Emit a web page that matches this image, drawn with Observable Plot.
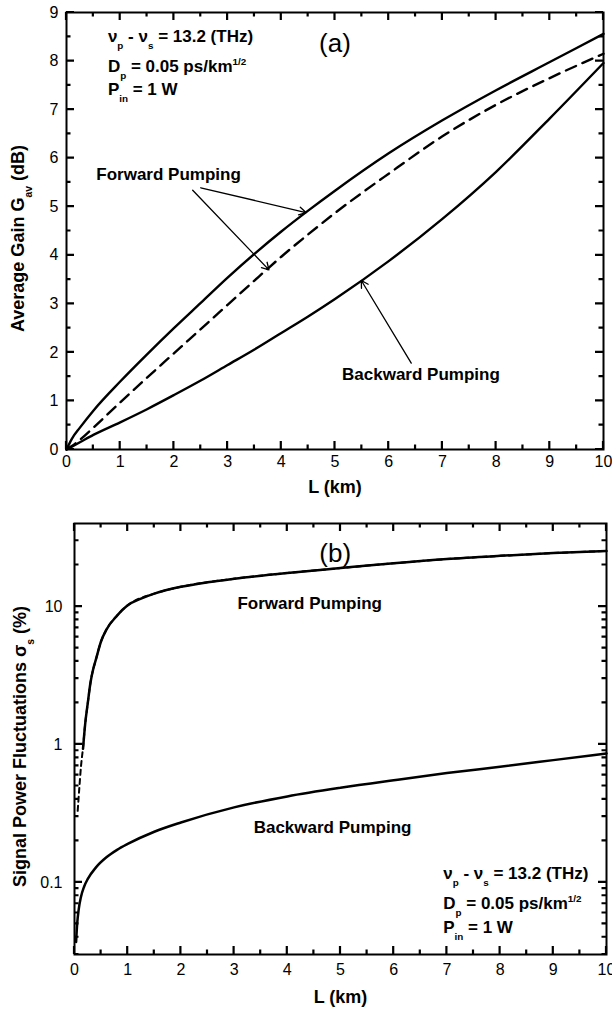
<!DOCTYPE html>
<html>
<head>
<meta charset="utf-8">
<script src="https://cdn.jsdelivr.net/npm/d3@7"></script>
<script src="https://cdn.jsdelivr.net/npm/@observablehq/plot@0.6"></script>
<style>
  html, body { margin: 0; padding: 0; background: #fff; }
  #wrap { position: relative; width: 612px; height: 1013px; overflow: hidden; background: #fff; }
  #wrap svg { position: absolute; left: 0; }
</style>
</head>
<body>
<div id="wrap"></div>
<script>
// ---------------- Panel (a): average gain vs length ----------------
const aL            = [0, 0.1, 0.25, 0.5, 1, 1.5, 2, 2.5, 3, 3.5, 4, 4.5, 5, 6, 7, 8, 9, 10];
const aForwardSolid = [0, 0.22, 0.45, 0.8, 1.4, 1.96, 2.5, 3.02, 3.54, 4.03, 4.49, 4.92, 5.33, 6.1, 6.78, 7.4, 7.98, 8.56];
const aForwardDash  = [0, 0.07, 0.2, 0.45, 0.97, 1.48, 1.98, 2.48, 2.98, 3.48, 3.97, 4.43, 4.87, 5.68, 6.45, 7.1, 7.65, 8.15];
const aBackward     = [0, 0.06, 0.15, 0.3, 0.56, 0.83, 1.12, 1.42, 1.74, 2.06, 2.4, 2.74, 3.1, 3.88, 4.75, 5.72, 6.82, 7.96];
const aXTicks = [0, 1, 2, 3, 4, 5, 6, 7, 8, 9, 10];
const aXMinor = [0.5, 1.5, 2.5, 3.5, 4.5, 5.5, 6.5, 7.5, 8.5, 9.5];
const aYTicks = [0, 1, 2, 3, 4, 5, 6, 7, 8, 9];
const aYMinor = [0.5, 1.5, 2.5, 3.5, 4.5, 5.5, 6.5, 7.5, 8.5];

// ---------------- Panel (b): signal power fluctuations vs length ----------------
const bForwardL      = [0.16, 0.2, 0.25, 0.3, 0.35, 0.4, 0.5, 0.6, 0.8, 1, 1.25, 1.5, 2, 2.5, 3, 4, 5, 6, 7, 8, 9, 10];
const bForwardSigma  = [0.93, 1.4, 2.0, 2.8, 3.5, 4.1, 5.6, 6.8, 8.6, 10.2, 11.4, 12.4, 13.9, 15.0, 15.9, 17.5, 19.0, 20.6, 22.1, 23.3, 24.4, 25.3];
const bForwardDashL     = [0.06, 0.09, 0.12, 0.16, 0.2, 0.25, 0.3, 0.4, 0.5, 0.6, 0.8, 1, 1.5, 2, 3, 4, 5, 6, 7, 8, 9, 10];
const bForwardDashSigma = [0.33, 0.48, 0.68, 0.95, 1.4, 2.0, 2.8, 4.1, 5.6, 6.8, 8.6, 10.2, 12.4, 13.9, 15.9, 17.5, 19.0, 20.6, 22.1, 23.3, 24.4, 25.3];
const bBackwardL     = [0.03, 0.05, 0.08, 0.12, 0.18, 0.25, 0.4, 0.6, 0.8, 1, 1.5, 2, 3, 4, 5, 6, 7, 8, 9, 10];
const bBackwardSigma = [0.037, 0.05, 0.064, 0.078, 0.093, 0.106, 0.128, 0.152, 0.172, 0.19, 0.233, 0.272, 0.35, 0.42, 0.485, 0.55, 0.62, 0.69, 0.77, 0.86];
const bXTicks = [0, 1, 2, 3, 4, 5, 6, 7, 8, 9, 10];
const bXMinor = [0.5, 1.5, 2.5, 3.5, 4.5, 5.5, 6.5, 7.5, 8.5, 9.5];
const bYTicks = [0.1, 1, 10];
const bYTickLabels = ["0.1", "1", "10"];
const bYMinor = [0.03, 0.04, 0.05, 0.06, 0.07, 0.08, 0.09, 0.2, 0.3, 0.4, 0.5, 0.6, 0.7, 0.8, 0.9, 2, 3, 4, 5, 6, 7, 8, 9, 20, 30];

// ---------------- Texts ----------------
const xTitle = "L (km)";
const curveLabels = ["Forward Pumping", "Backward Pumping"];
const panelLabels = ["(a)", "(b)"];
const paramLines = [
  [["ν", null], ["p", "sub"], [" - ν", null], ["s", "sub"], [" = 13.2 (THz)", null]],
  [["D", null], ["p", "sub"], [" = 0.05 ps/km", null], ["1/2", "sup"]],
  [["P", null], ["in", "sub"], [" = 1 W", null]]
];
const aYTitle = [["Average Gain G", null], ["av", "sub"], [" (dB)", null]];
const bYTitle = [["Signal Power Fluctuations σ", null], ["s", "sub"], [" (%)", null]];

// ---------------- helpers ----------------
const FONT = "'Liberation Sans', Arial, Helvetica, sans-serif";
const toRows = (xs, ys) => xs.map((x, i) => ({x, y: ys[i]}));

function rich(svg, x, y, parts, {size = 17, weight = "bold", anchor = "start", rotate = 0} = {}) {
  const t = d3.select(svg).append("text")
    .attr("transform", `translate(${x},${y}) rotate(${rotate})`)
    .attr("text-anchor", anchor)
    .attr("font-family", FONT)
    .attr("font-size", size)
    .attr("font-weight", weight)
    .attr("fill", "#000");
  let shift = 0;
  for (const [s, kind] of parts) {
    const target = kind === "sub" ? size * 0.42 : kind === "sup" ? -size * 0.42 : 0;
    const ts = t.append("tspan").text(s).attr("dy", target - shift);
    if (kind) ts.attr("font-size", size * 0.58);
    shift = target;
  }
}

// inward ticks on all four sides, positioned through the plot's own scales
function drawTicks(svg, dims, xMaj, xMin, yMaj, yMin) {
  const sx = svg.scale("x"), sy = svg.scale("y");
  const L = dims.left, R = dims.width - dims.right, T = dims.top, Bt = dims.height - dims.bottom;
  const M = 8, m = 4.5;
  let d = "";
  for (const [vals, len] of [[xMaj, M], [xMin, m]]) for (const v of vals) {
    const x = sx.apply(v);
    d += `M${x},${Bt}V${Bt - len}M${x},${T}V${T + len}`;
  }
  for (const [vals, len] of [[yMaj, M], [yMin, m]]) for (const v of vals) {
    const y = sy.apply(v);
    d += `M${L},${y}H${L + len}M${R},${y}H${R - len}`;
  }
  const ns = "http://www.w3.org/2000/svg";
  const p = document.createElementNS(ns, "path");
  p.setAttribute("d", d);
  p.setAttribute("stroke", "#000");
  p.setAttribute("stroke-width", "2.2");
  p.setAttribute("fill", "none");
  svg.appendChild(p);
}

const wrap = document.getElementById("wrap");

// ---------------- Panel (a) ----------------
const A = {width: 612, height: 510, top: 12, right: 9, bottom: 61, left: 66};

const plotA = Plot.plot({
  width: A.width, height: A.height,
  marginTop: A.top, marginRight: A.right, marginBottom: A.bottom, marginLeft: A.left,
  style: {fontFamily: FONT, fontSize: "16px", color: "#000", background: "transparent", overflow: "visible"},
  x: {domain: [0, 10]},
  y: {domain: [0, 9]},
  marks: [
    Plot.line(toRows(aL, aForwardSolid), {x: "x", y: "y", curve: "monotone-x", stroke: "#000", strokeWidth: 2.4}),
    Plot.line(toRows(aL, aForwardDash), {x: "x", y: "y", curve: "monotone-x", stroke: "#000", strokeWidth: 2.4, strokeDasharray: "11,7"}),
    Plot.line(toRows(aL, aBackward), {x: "x", y: "y", curve: "monotone-x", stroke: "#000", strokeWidth: 2.4}),
    Plot.arrow([
      {x1: 2.5, y1: 5.39, x2: 4.46, y2: 4.88},
      {x1: 2.35, y1: 5.34, x2: 3.77, y2: 3.70},
      {x1: 6.42, y1: 1.78, x2: 5.49, y2: 3.48}
    ], {x1: "x1", y1: "y1", x2: "x2", y2: "y2", stroke: "#000", strokeWidth: 1.3, headLength: 9}),
    Plot.text([curveLabels[0]], {x: 1.9, y: 5.66, text: d => d, fontWeight: "bold", fontSize: 17}),
    Plot.text([curveLabels[1]], {x: 6.6, y: 1.54, text: d => d, fontWeight: "bold", fontSize: 17}),
    Plot.text([panelLabels[0]], {x: 5.0, y: 8.36, text: d => d, fontSize: 26}),
    Plot.frame({stroke: "#000", strokeWidth: 2}),
    Plot.axisX({ticks: aXTicks, tickSize: 0, tickPadding: 6, label: null, tickFormat: d => String(d)}),
    Plot.axisY({ticks: aYTicks, tickSize: 0, tickPadding: 8, label: null, tickFormat: d => String(d)}),
    Plot.text([xTitle], {frameAnchor: "bottom", dy: 43, text: d => d, fontWeight: "bold", fontSize: 18})
  ]
});
plotA.style.top = "0px";
wrap.appendChild(plotA);
drawTicks(plotA, A, aXTicks, aXMinor, aYTicks, aYMinor);
{
  const sx = plotA.scale("x"), sy = plotA.scale("y");
  const px = sx.apply(0.78);
  const ys = [8.38, 7.77, 7.29];
  paramLines.forEach((parts, i) => rich(plotA, px, sy.apply(ys[i]), parts, {size: 17}));
  rich(plotA, 24, (A.top + A.height - A.bottom) / 2 + 8, aYTitle, {size: 18, anchor: "middle", rotate: -90});
}

// ---------------- Panel (b) ----------------
const B = {width: 612, height: 503, top: 13, right: 6, bottom: 59, left: 74};

const plotB = Plot.plot({
  width: B.width, height: B.height,
  marginTop: B.top, marginRight: B.right, marginBottom: B.bottom, marginLeft: B.left,
  style: {fontFamily: FONT, fontSize: "16px", color: "#000", background: "transparent", overflow: "visible"},
  x: {domain: [0, 10]},
  y: {type: "log", domain: [0.03, 40]},
  marks: [
    Plot.line(toRows(bForwardDashL, bForwardDashSigma), {x: "x", y: "y", curve: "monotone-x", stroke: "#000", strokeWidth: 2.0, strokeDasharray: "5,4"}),
    Plot.line(toRows(bForwardL, bForwardSigma), {x: "x", y: "y", curve: "monotone-x", stroke: "#000", strokeWidth: 2.5}),
    Plot.line(toRows(bBackwardL, bBackwardSigma), {x: "x", y: "y", curve: "monotone-x", stroke: "#000", strokeWidth: 2.5}),
    Plot.text([curveLabels[0]], {x: 4.42, y: 10.5, text: d => d, fontWeight: "bold", fontSize: 17}),
    Plot.text([curveLabels[1]], {x: 4.85, y: 0.25, text: d => d, fontWeight: "bold", fontSize: 17}),
    Plot.text([panelLabels[1]], {x: 4.9, y: 24.2, text: d => d, fontSize: 26}),
    Plot.frame({stroke: "#000", strokeWidth: 2}),
    Plot.axisX({ticks: bXTicks, tickSize: 0, tickPadding: 9, label: null, tickFormat: d => String(d)}),
    Plot.axisY({ticks: bYTicks, tickSize: 0, tickPadding: 12, label: null, tickFormat: d => bYTickLabels[bYTicks.indexOf(d)]}),
    Plot.text([xTitle], {frameAnchor: "bottom", dy: 48, text: d => d, fontWeight: "bold", fontSize: 18})
  ]
});
plotB.style.top = "510px";
wrap.appendChild(plotB);
drawTicks(plotB, B, bXTicks, bXMinor, bYTicks, bYMinor);
{
  const sx = plotB.scale("x"), sy = plotB.scale("y");
  const px = sx.apply(6.94);
  const ys = [0.105, 0.0635, 0.0425];
  paramLines.forEach((parts, i) => rich(plotB, px, sy.apply(ys[i]), parts, {size: 17}));
  rich(plotB, 26, (B.top + B.height - B.bottom) / 2 + 8, bYTitle, {size: 18, anchor: "middle", rotate: -90});
}
</script>
</body>
</html>
